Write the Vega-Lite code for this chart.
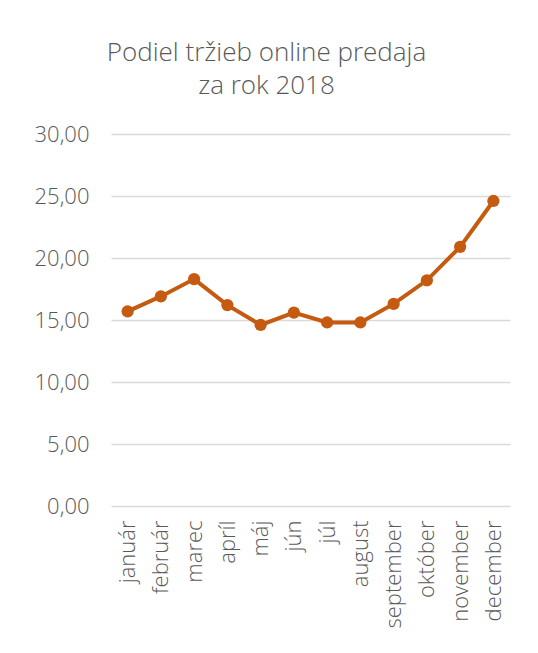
{
  "$schema": "https://vega.github.io/schema/vega-lite/v6.json",
  "width": 399,
  "height": 372,
  "autosize": "none",
  "padding": {"left": 111, "top": 134, "right": 28, "bottom": 147},
  "background": "white",
  "title": {
    "text": ["Podiel tržieb online predaja", "za rok 2018"],
    "anchor": "middle",
    "fontSize": 26,
    "font": "Open Sans",
    "fontWeight": 300,
    "color": "#595959",
    "lineHeight": 33,
    "offset": 24,
    "dx": -44
  },
  "data": {
    "values": [
      {"mesiac": "január", "podiel": 15.7},
      {"mesiac": "február", "podiel": 16.9},
      {"mesiac": "marec", "podiel": 18.3},
      {"mesiac": "apríl", "podiel": 16.2},
      {"mesiac": "máj", "podiel": 14.6},
      {"mesiac": "jún", "podiel": 15.6},
      {"mesiac": "júl", "podiel": 14.8},
      {"mesiac": "august", "podiel": 14.8},
      {"mesiac": "september", "podiel": 16.3},
      {"mesiac": "október", "podiel": 18.2},
      {"mesiac": "november", "podiel": 20.9},
      {"mesiac": "december", "podiel": 24.6}
    ]
  },
  "mark": {"type": "line", "color": "#C55A11", "strokeWidth": 4, "point": {"filled": true, "size": 150, "color": "#C55A11"}},
  "encoding": {
    "x": {
      "field": "mesiac", "type": "nominal", "sort": null,
      "scale": {"paddingInner": 0, "paddingOuter": 0},
      "axis": {"title": null, "labelAngle": -90, "labelFontSize": 22, "labelFont": "Open Sans", "labelFontWeight": 300, "labelColor": "#595959", "domain": false, "ticks": false, "labelPadding": 14, "grid": false}
    },
    "y": {
      "field": "podiel", "type": "quantitative",
      "scale": {"domain": [0, 30]},
      "axis": {"title": null, "values": [0, 5, 10, 15, 20, 25, 30], "format": ".2f", "labelExpr": "replace(datum.label, '.', ',')", "labelFontSize": 22, "labelFont": "Open Sans", "labelFontWeight": 300, "labelColor": "#595959", "domain": false, "ticks": false, "labelPadding": 22, "gridColor": "#d9d9d9", "gridWidth": 1.5}
    }
  },
  "config": {"view": {"stroke": null}}
}
